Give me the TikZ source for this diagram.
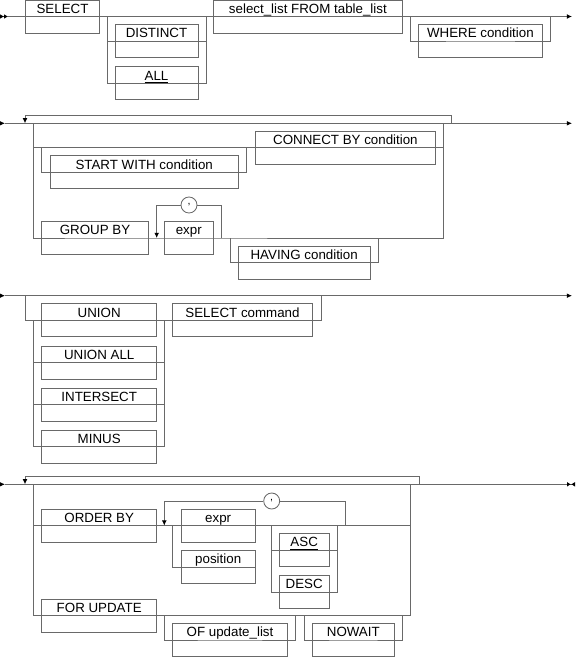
\documentclass[tikz,border=0pt]{standalone}
\usepackage{fontspec}
\setmainfont{Liberation Sans}
\usetikzlibrary{arrows.meta,positioning}
\definecolor{railgray}{RGB}{105,105,105}

\begin{document}
\begin{tikzpicture}[x=0.75pt,y=-0.75pt,
        rail/.style={draw=railgray,line width=0.65pt},
        kw/.style={rectangle,draw=railgray,line width=0.65pt,inner sep=0pt,
          minimum width=#1*0.75pt,minimum height=24.75pt,text height=10pt,text depth=14.75pt,
          font=\fontsize{10}{12}\selectfont},
        comma/.style={circle,draw=railgray,line width=0.65pt,minimum size=12pt,inner sep=0pt,
          font=\fontsize{8}{8}\selectfont},
        arrow/.style={-{Latex[length=3.9pt,width=3.6pt,color=black]}},
        twin/.style={-{Latex[length=3pt,width=3.6pt,color=black]Latex[length=3pt,width=3.6pt,color=black]}},
        stop/.style={-{Latex[length=3pt,width=3.6pt,color=black]Latex[length=3pt,width=3.6pt,color=black,reversed]}}]
        \useasboundingbox (0,0) rectangle (576,657);

        \coordinate (r1a) at (0,16.5);
        \coordinate (r1b) at (8,16.5);
        \coordinate (r1end) at (572,16.5);
        \node[kw=73.6] (select) at (62.5,16.5) {SELECT};
        \node[kw=83] (distinct) at (156.5,41) {DISTINCT};
        \node[kw=83,below=6.4pt of distinct] (all) {\underline{ALL}};
        \node[kw=189.7] (sellist) at (307.9,16.5) {select\_list FROM table\_list};
        \node[kw=123.3] (where) at (480.4,41) {WHERE condition};
        \coordinate (b1) at (107,16.5);
        \coordinate (b2) at (206,16.5);
        \coordinate (w1) at (410,16.5);
        \coordinate (w2) at (550,16.5);
        \draw[rail,twin] (r1a) -- (r1b);
        \draw[rail,arrow] (r1b) -- (r1end);
        \draw[rail] (b1) |- (all.center) -| (b2);
        \draw[rail] (b1 |- distinct.center) -- (b2 |- distinct.center);
        \draw[rail] (w1) |- (where.center) -| (w2);

        \coordinate (r2a) at (0,123.3);
        \coordinate (r2b) at (5,123.3);
        \coordinate (r2end) at (572,123.3);
        \coordinate (l2a) at (25,123.3);
        \coordinate (l2b) at (451.7,123.3);
        \coordinate (l2top) at (451.7,115);
        \coordinate (o1) at (33.3,123.3);
        \coordinate (o2) at (443.3,123.3);
        \node[kw=180.7] (connect) at (345.4,147.7) {CONNECT BY condition};
        \node[kw=188.3] (startw) at (144.2,172.4) {START WITH condition};
        \node[kw=106.6] (group) at (95,238) {GROUP BY};
        \node[kw=49] (gexpr) at (188.8,238) {expr};
        \node[comma] (gcomma) at (189,205) {,};
        \node[kw=131.7] (having) at (304.2,262.6) {HAVING condition};
        \coordinate (s1) at (41.7,147.7);
        \coordinate (s2) at (246.7,147.7);
        \coordinate (g1) at (156.7,238);
        \coordinate (g2) at (221.7,238);
        \coordinate (h1) at (230,238);
        \coordinate (h2) at (378.3,238);
        \draw[rail,arrow] (r2a) -- (r2b);
        \draw[rail,arrow] (r2b) -- (r2end);
        \draw[rail,arrow] (l2b) -- (l2top) -| (l2a);
        \draw[rail] (o1) |- (group.center) -| (o2);
        \draw[rail] (o1 |- connect.center) -- (o2 |- connect.center);
        \draw[rail] (s1) |- (startw.center) -| (s2);
        \draw[rail,arrow] (g2) |- (gcomma) -| (g1);
        \draw[rail] (h1) |- (having.center) -| (h2);

        \coordinate (r3a) at (0,295.7);
        \coordinate (r3b) at (5,295.7);
        \coordinate (r3end) at (572,295.7);
        \coordinate (u1) at (25,295.7);
        \coordinate (u2) at (321,295.7);
        \node[kw=115] (union) at (99.2,320.3) {UNION};
        \node[kw=115,below=6.2pt of union] (unionall) {UNION ALL};
        \node[kw=115,below=6.2pt of unionall] (intersect) {INTERSECT};
        \node[kw=115,below=6.2pt of intersect] (minus) {MINUS};
        \node[kw=139.6] (selcmd) at (242.5,320.3) {SELECT command};
        \coordinate (v1) at (33.3,320.3);
        \coordinate (v2) at (164.3,320.3);
        \draw[rail,arrow] (r3a) -- (r3b);
        \draw[rail,arrow] (r3b) -- (r3end);
        \draw[rail] (u1) |- (union.center) -| (u2);
        \draw[rail] (v1) |- (minus.center) -| (v2);
        \draw[rail] (v1 |- unionall.center) -- (v2 |- unionall.center);
        \draw[rail] (v1 |- intersect.center) -- (v2 |- intersect.center);

        \coordinate (r4a) at (0,484.3);
        \coordinate (r4b) at (5,484.3);
        \coordinate (r4end) at (575,484.3);
        \coordinate (l4a) at (25,484.3);
        \coordinate (l4b) at (419,484.3);
        \coordinate (l4top) at (419,476);
        \coordinate (p1) at (33.3,484.3);
        \coordinate (p2) at (410.7,484.3);
        \node[kw=115] (order) at (99.2,525.6) {ORDER BY};
        \node[kw=74.5] (oexpr) at (218.2,525.6) {expr};
        \node[kw=74.5,below=5.7pt of oexpr] (position) {position};
        \node[comma] (ocomma) at (271.7,501) {,};
        \node[kw=49.7] (asc) at (304.2,550) {\underline{ASC}};
        \node[kw=49.7,below=6.2pt of asc] (desc) {DESC};
        \node[kw=115] (forupd) at (99.2,615.8) {FOR UPDATE};
        \node[kw=114.6] (ofupd) at (230,640) {OF update\_list};
        \node[kw=82] (nowait) at (353.3,640) {NOWAIT};
        \coordinate (q1) at (164.3,525.6);
        \coordinate (q2) at (345,525.6);
        \coordinate (e1) at (172.7,525.6);
        \coordinate (d1) at (271,525.6);
        \coordinate (d2) at (337.3,525.6);
        \coordinate (f1) at (164.3,615.8);
        \coordinate (f2) at (295,615.8);
        \coordinate (n1) at (304,615.8);
        \coordinate (n2) at (402.3,615.8);
        \draw[rail,arrow] (r4a) -- (r4b);
        \draw[rail,stop] (r4b) -- (r4end);
        \draw[rail,arrow] (l4b) -- (l4top) -| (l4a);
        \draw[rail] (p1) |- (forupd.center) -| (p2);
        \draw[rail] (p1 |- order.center) -- (p2 |- order.center);
        \draw[rail,arrow] (q2) |- (ocomma) -| (q1);
        \draw[rail] (e1) |- (position.east);
        \draw[rail] (d1) |- (desc.center) -| (d2);
        \draw[rail] (d1 |- asc.center) -- (d2 |- asc.center);
        \draw[rail] (f1) |- (ofupd.center) -| (f2);
        \draw[rail] (n1) |- (nowait.center) -| (n2);
      \end{tikzpicture}
\end{document}
